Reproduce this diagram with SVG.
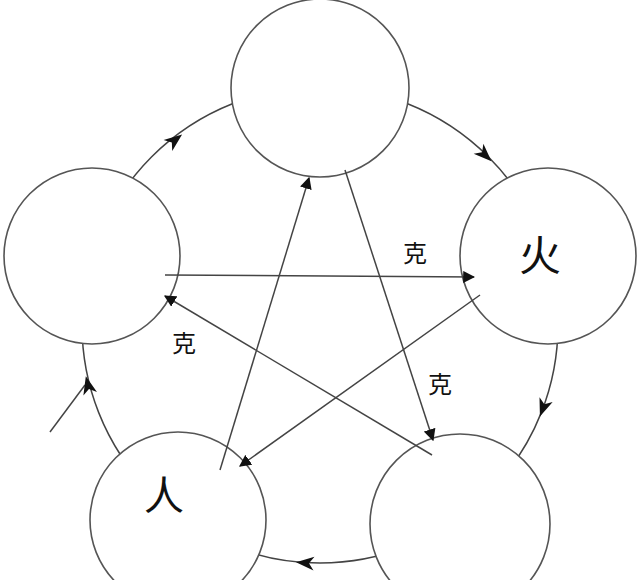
<svg xmlns="http://www.w3.org/2000/svg" width="640" height="580" viewBox="0 0 640 580">
<style>
.n{fill:#fff;stroke:#555;stroke-width:1.6}
.l{stroke:#444;stroke-width:1.5;fill:none}
.t{font-family:"Noto Sans CJK SC",sans-serif;fill:#111}
</style>
<defs>
<marker id="a" viewBox="0 0 10 10" refX="9" refY="5" markerWidth="12" markerHeight="12" orient="auto" markerUnits="userSpaceOnUse"><path d="M0,0L10,5L0,10z" fill="#111"/></marker>
<path id="h" d="M-9,-7L9,0L-9,7L-4,0z" fill="#111"/>
</defs>
<rect width="640" height="580" fill="#fff"/>
<g id="ring">
<circle class="l" cx="320" cy="325" r="238"/>
<path class="l" d="M50,432L85,385"/>
<use href="#h" transform="translate(175,140) rotate(-38)"/>
<use href="#h" transform="translate(485,155) rotate(44)"/>
<use href="#h" transform="translate(543,408) rotate(110)"/>
<use href="#h" transform="translate(305,563) rotate(184)"/>
<use href="#h" transform="translate(88,385) rotate(256)"/>
</g>
<g id="top"><circle class="n" cx="320" cy="88" r="89"/></g>
<g id="fire"><circle class="n" cx="548" cy="256" r="88"/><text class="t" x="540" y="271" font-size="42" text-anchor="middle">火</text></g>
<g id="left"><circle class="n" cx="92" cy="256" r="88"/></g>
<g id="bl"><circle class="n" cx="178" cy="520" r="88"/><text class="t" x="164" y="510" font-size="40" text-anchor="middle">人</text></g>
<g id="br"><circle class="n" cx="460" cy="524" r="90"/></g>
<g id="connectors">
<line class="l" x1="345" y1="170" x2="433" y2="440" marker-end="url(#a)"/>
<line class="l" x1="220" y1="470" x2="309" y2="178" marker-end="url(#a)"/>
<line class="l" x1="165" y1="275" x2="474" y2="277" marker-end="url(#a)"/>
<line class="l" x1="480" y1="295" x2="240" y2="466" marker-end="url(#a)"/>
<line class="l" x1="432" y1="455" x2="165" y2="296" marker-end="url(#a)"/>
</g>
<text class="t" x="415" y="262" font-size="24" text-anchor="middle">克</text>
<text class="t" x="184" y="352" font-size="24" text-anchor="middle">克</text>
<text class="t" x="440" y="393" font-size="24" text-anchor="middle">克</text>
</svg>
